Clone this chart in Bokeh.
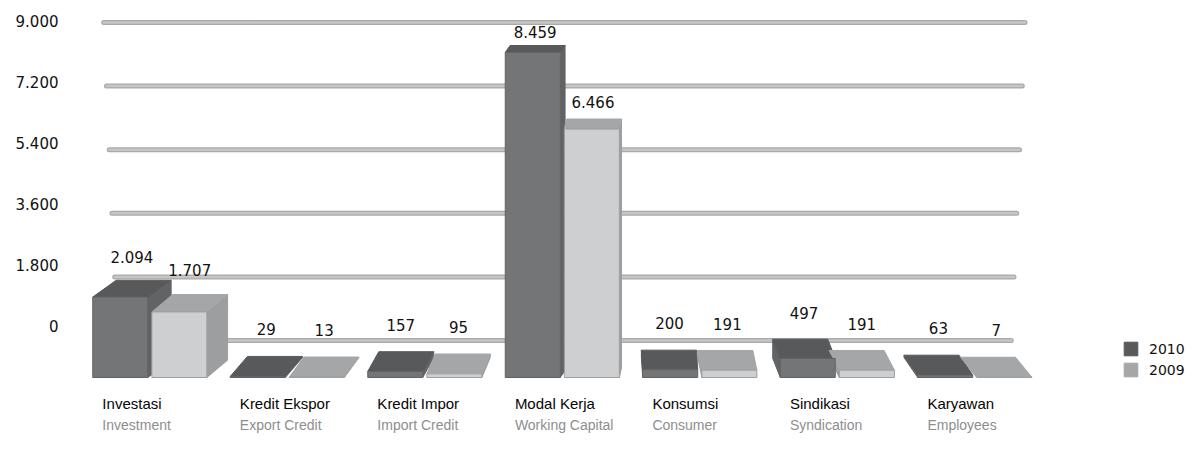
from bokeh.plotting import figure
from bokeh.models import Range1d, LinearAxis, FixedTicker, Legend, LegendItem
from bokeh.core.properties import value
from bokeh.embed import file_html
from bokeh.resources import INLINE

# ---------------- data ----------------
categories_id = ["Investasi", "Kredit  Ekspor", "Kredit  Impor", "Modal  Kerja",
                 "Konsumsi", "Sindikasi", "Karyawan"]
categories_en = ["Investment", "Export  Credit", "Import  Credit", "Working  Capital",
                 "Consumer", "Syndication", "Employees"]
series_names = ["2010", "2009"]
values_2010 = [2094, 29, 157, 8459, 200, 497, 63]
values_2009 = [1707, 13, 95, 6466, 191, 191, 7]
tick_values = [0, 1800, 3600, 5400, 7200, 9000]
tick_labels = ["0", "1.800", "3.600", "5.400", "7.200", "9.000"]

# ---------------- styling / layout ----------------
W, H = 1190, 455
BORDER_L = 70
X_RANGE = (-0.5818, 7.5636)
Y_FRONT = (-2030, 9812.6)   # bar faces (front plane)
Y_BACK = (-3255, 9622.6)    # back wall (grid lines, value labels)
Y_AXIS = (-3842, 9605.8)    # axis labels
BAR_W = 0.40
BAR_OFF = {"2010": -0.42, "2009": 0.01}
VANISH_X = 3.56
PERSP_K = 0.045
DEPTH_MAX, DEPTH_MIN = 20, 7
GRID_LEFT, GRID_RIGHT, GRID_SPREAD = -0.24, 6.26, 0.10
COLORS = {
    "2010": {"front": "#747577", "top": "#58595b", "side": "#626365"},
    "2009": {"front": "#cdcfd0", "top": "#a4a6a8", "side": "#9c9ea0"},
}
NUM_FONT = "DejaVu Sans"
LBL_FONT = "Liberation Sans"

p = figure(width=W, height=H, output_backend="svg", toolbar_location=None,
           x_range=Range1d(*X_RANGE), y_range=Range1d(*Y_FRONT),
           x_axis_location=None, y_axis_location=None,
           min_border_left=BORDER_L, min_border_right=0,
           min_border_top=0, min_border_bottom=0)
p.extra_y_ranges = {"back": Range1d(*Y_BACK), "axis": Range1d(*Y_AXIS)}
p.grid.visible = False
p.outline_line_color = None
p.background_fill_color = "white"

px_per_x = (W - BORDER_L) / (X_RANGE[1] - X_RANGE[0])
px_per_y = H / (Y_FRONT[1] - Y_FRONT[0])

# ---------------- grid lines on the back wall ----------------
gmax = max(tick_values)
g_left = [GRID_LEFT - GRID_SPREAD * t / gmax for t in tick_values]
g_right = [GRID_RIGHT + GRID_SPREAD * t / gmax for t in tick_values]
p.segment(x0=g_left, y0=tick_values, x1=g_right, y1=tick_values, y_range_name="back",
          line_width=5, line_color="#a9a9a9", line_cap="round")
p.segment(x0=g_left, y0=tick_values, x1=g_right, y1=tick_values, y_range_name="back",
          line_width=2.5, line_color="#c6c6c6", line_cap="round")

# ---------------- bars (pseudo 3D) ----------------
series_values = {"2010": values_2010, "2009": values_2009}
vmax = max(values_2010 + values_2009)
geo = {}
for s in series_names:
    fx0, fx1, tops_v = [], [], []
    top_xs, top_ys, side_xs, side_ys = [], [], [], []
    lab_x, lab_y, lab_t = [], [], []
    for i, v in enumerate(series_values[s]):
        x0 = i + BAR_OFF[s]
        x1 = x0 + BAR_W
        xc = (x0 + x1) / 2
        dx = PERSP_K * (VANISH_X - xc)
        dy_px = DEPTH_MAX - (DEPTH_MAX - DEPTH_MIN) * v / vmax
        dy = dy_px / px_per_y
        fx0.append(x0); fx1.append(x1); tops_v.append(v)
        top_xs.append([x0, x1, x1 + dx, x0 + dx])
        top_ys.append([v, v, v + dy, v + dy])
        ex = x1 if dx > 0 else x0
        side_xs.append([ex, ex, ex + dx, ex + dx])
        side_ys.append([0, v, v + dy, dy])
        lab_x.append(xc + dx / 2)
        lab_y.append(v)
        lab_t.append(f"{v:,}".replace(",", "."))
    geo[s] = dict(fx0=fx0, fx1=fx1, v=tops_v, top_xs=top_xs, top_ys=top_ys,
                  side_xs=side_xs, side_ys=side_ys, lab_x=lab_x, lab_y=lab_y, lab_t=lab_t)

for s in series_names:
    g = geo[s]
    p.patches(xs=g["side_xs"], ys=g["side_ys"], fill_color=COLORS[s]["side"],
              line_color=COLORS[s]["side"], line_width=1)
top_renderers = {}
for s in series_names:
    g = geo[s]
    top_renderers[s] = p.patches(xs=g["top_xs"], ys=g["top_ys"], fill_color=COLORS[s]["top"],
                                 line_color=COLORS[s]["top"], line_width=1)
for s in series_names:
    g = geo[s]
    p.quad(left=g["fx0"], right=g["fx1"], bottom=0, top=g["v"],
           fill_color=COLORS[s]["front"], line_color=COLORS[s]["side"], line_width=1)

# value labels
for s in series_names:
    g = geo[s]
    p.text(x=g["lab_x"], y=g["lab_y"], text=g["lab_t"], y_range_name="back",
           y_offset=-10, text_align="center", text_baseline="middle",
           text_font=value(NUM_FONT), text_font_size="15px", text_color="#111111")

# category labels
cat_x = [i - 0.35 for i in range(len(categories_id))]
p.text(x=cat_x, y=[0] * len(cat_x), text=categories_id, y_offset=26,
       text_align="left", text_baseline="middle",
       text_font=value(LBL_FONT), text_font_size="15px", text_color="#050505")
p.text(x=cat_x, y=[0] * len(cat_x), text=categories_en, y_offset=47,
       text_align="left", text_baseline="middle",
       text_font=value(LBL_FONT), text_font_size="14px", text_color="#8e8e8e")

# y axis
yaxis = LinearAxis(y_range_name="axis", ticker=FixedTicker(ticks=tick_values),
                   major_label_overrides={t: l for t, l in zip(tick_values, tick_labels)},
                   axis_line_color=None, major_tick_line_color=None,
                   minor_tick_line_color=None, major_tick_out=0, major_tick_in=0,
                   major_label_standoff=12,
                   major_label_text_font=NUM_FONT, major_label_text_font_size="15px",
                   major_label_text_color="#111111")
p.add_layout(yaxis, "left")

# legend
legend = Legend(items=[LegendItem(label=s, renderers=[top_renderers[s]]) for s in series_names],
                location=(1052, 77), orientation="vertical",
                glyph_width=17, glyph_height=17, label_height=17, label_width=30,
                spacing=4, padding=0, margin=0, label_standoff=10,
                label_text_font=NUM_FONT, label_text_font_size="14px",
                label_text_color="#111111", border_line_alpha=0, background_fill_alpha=0)
p.add_layout(legend)

open("out.html", "w").write(file_html(p, INLINE))
